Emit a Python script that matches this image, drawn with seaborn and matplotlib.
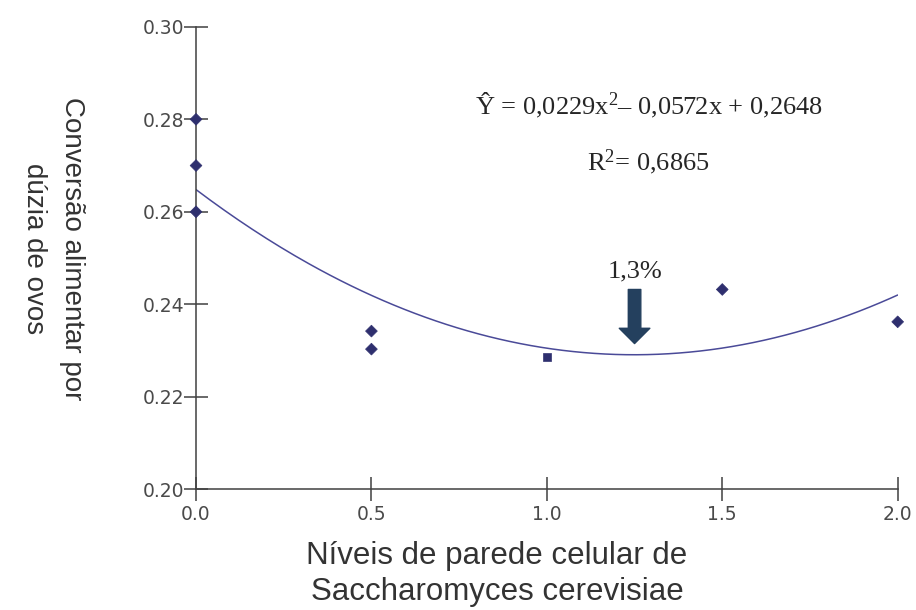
import numpy as np
import pandas as pd
import seaborn as sns
import matplotlib.pyplot as plt

levels = [0.0, 0.0, 0.0, 0.5, 0.5, 1.0, 1.5, 2.0]
conversion = [0.280, 0.270, 0.260, 0.2342, 0.2303, 0.2286, 0.2432, 0.2362]
marker_kind = ["d", "d", "d", "d", "d", "s", "d", "d"]

# quadratic fit printed on the chart: a*x^2 + b*x + c
fit_coefs = [0.0229, -0.0572, 0.2648]
optimum_x = 1.25
arrow_top, arrow_tip = 0.2432, 0.2315

y_ticks = [0.20, 0.22, 0.24, 0.26, 0.28, 0.30]
x_ticks = [0.0, 0.5, 1.0, 1.5, 2.0]

df = pd.DataFrame({"x": levels, "y": conversion, "m": marker_kind})
xs = np.linspace(0, 2, 200)
fit = pd.DataFrame({"x": xs, "y": np.polyval(fit_coefs, xs)})

sns.set_theme(style="ticks")
plt.rcParams["font.family"] = ["Liberation Sans", "DejaVu Sans"]
plt.rcParams["mathtext.fontset"] = "custom"
plt.rcParams["mathtext.rm"] = "Liberation Serif"
plt.rcParams["mathtext.it"] = "Liberation Serif:italic"
plt.rcParams["mathtext.bf"] = "Liberation Serif:bold"

serif = ["Liberation Serif", "DejaVu Serif"]

fig = plt.figure(figsize=(9.16, 6.10), dpi=100)
ax = fig.add_axes([0.214, 0.198, 0.766, 0.758])

point_col = "#2e2f6e"
line_col = "#4a4a98"

sns.lineplot(data=fit, x="x", y="y", ax=ax, color=line_col, lw=1.1)
sns.scatterplot(data=df, x="x", y="y", style="m", markers={"d": "D", "s": "s"},
                ax=ax, color=point_col, s=36, edgecolor=point_col, legend=False,
                zorder=3, clip_on=False)

ax.annotate("", xy=(optimum_x, arrow_tip), xytext=(optimum_x, arrow_top),
            arrowprops=dict(facecolor="#24405e", edgecolor="#24405e",
                            width=9, headwidth=22, headlength=11))
ax.text(optimum_x, 0.2447, "1,3%", ha="center", va="bottom",
        fontsize=19, family=serif)

ax.text(0.645, 0.829, r"Ŷ = 0,0229x$^{\rm 2}$– 0,0572x + 0,2648",
        transform=ax.transAxes, ha="center", va="center", fontsize=19,
        family=serif)
ax.text(0.645, 0.708, r"R$^{\rm 2}$= 0,6865", transform=ax.transAxes,
        ha="center", va="center", fontsize=19, family=serif)

ax.set_xlim(0, 2)
ax.set_ylim(0.2, 0.3)
ax.set_xticks(x_ticks)
ax.set_yticks(y_ticks)
ax.set_xticklabels([f"{v:.1f}" for v in x_ticks])
ax.set_yticklabels([f"{v:.2f}" for v in y_ticks])
ax.tick_params(direction="inout", length=17, width=1.1, color="#404040",
               labelcolor="#4a4a4a", labelsize=13.5)
ax.tick_params(axis="y", pad=0)
ax.tick_params(axis="x", pad=3)
for lab in ax.get_xticklabels() + ax.get_yticklabels():
    lab.set_family(["DejaVu Sans"])

sns.despine(ax=ax)
for side in ["left", "bottom"]:
    ax.spines[side].set_color("#404040")
    ax.spines[side].set_linewidth(1.1)

ax.set_xlabel("Níveis de parede celular de\nSaccharomyces cerevisiae",
              fontsize=22.5, color="#333333", linespacing=1.27)
ax.xaxis.set_label_coords(0.429, -0.112)
ax.set_ylabel("Conversão alimentar por\ndúzia de ovos", fontsize=20,
              color="#333333", rotation=270, linespacing=1.6)
ax.yaxis.set_label_coords(-0.249, 0.52)

fig.savefig("out.png", dpi=100)
